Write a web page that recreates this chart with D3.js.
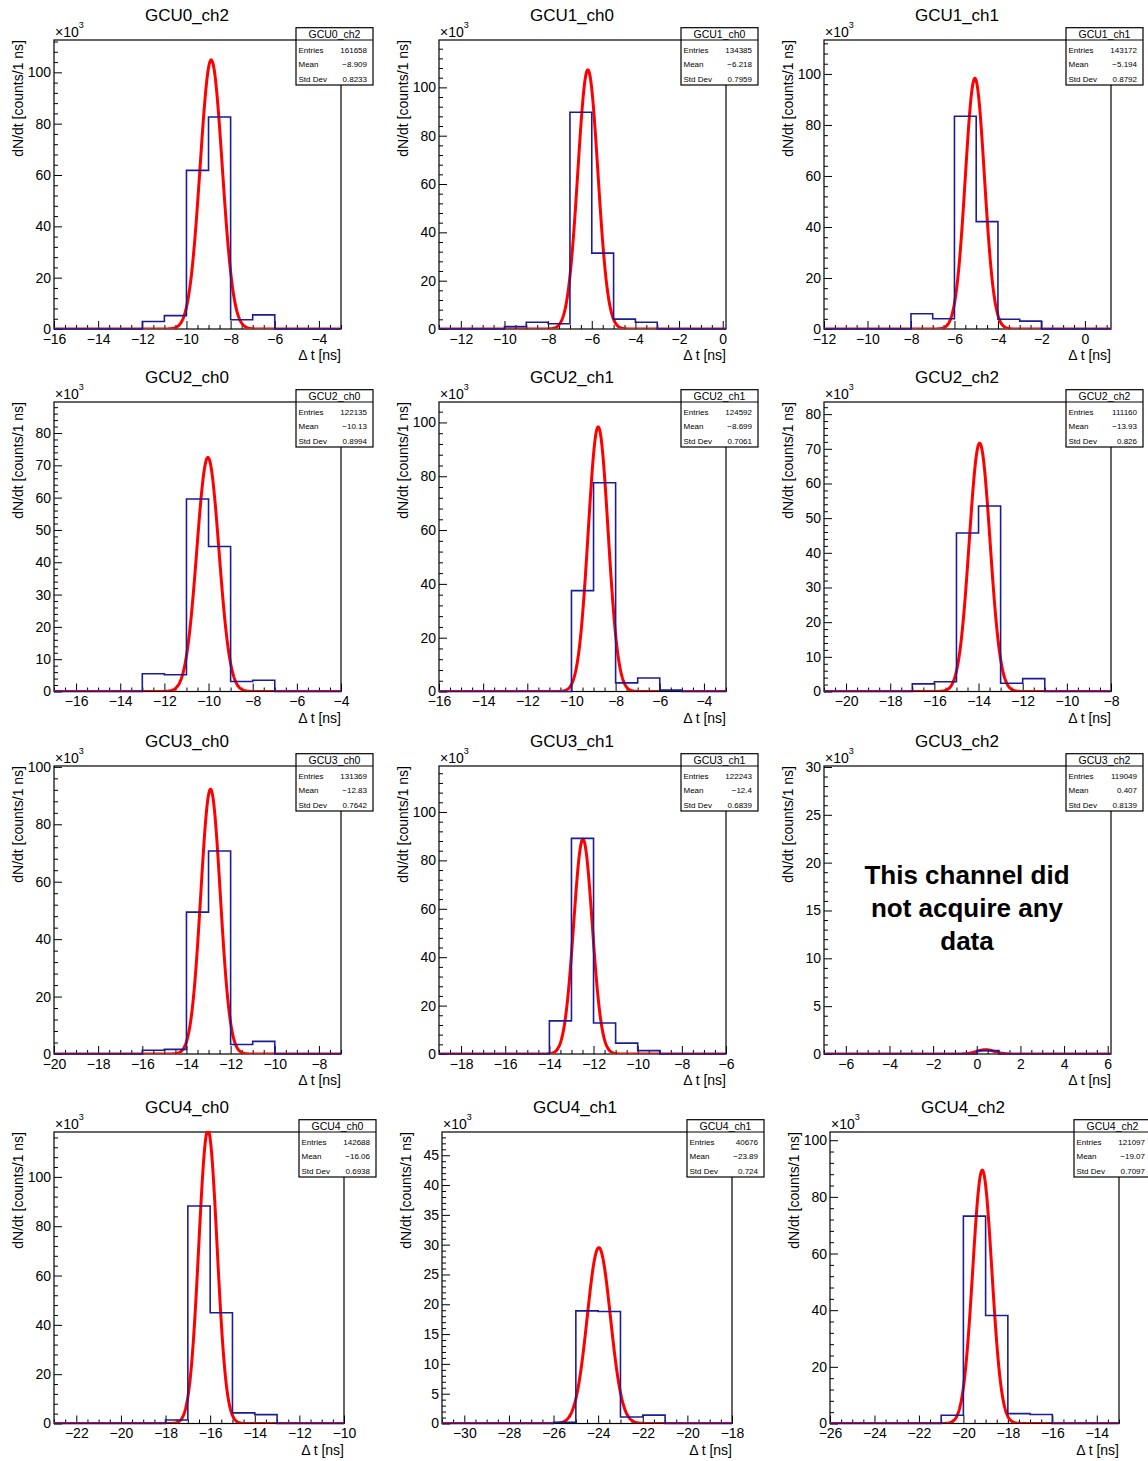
<!DOCTYPE html>
<html>
<head>
<meta charset="utf-8">
<script src="https://cdn.jsdelivr.net/npm/d3@7"></script>
<style>
  body { margin: 0; background: #fff; }
  text { font-family: "Liberation Sans", Arial, sans-serif; }
</style>
</head>
<body>
<script>
// Histogram names (one panel each)
const names = ["GCU0_ch2", "GCU1_ch0", "GCU1_ch1", "GCU2_ch0", "GCU2_ch1", "GCU2_ch2",
               "GCU3_ch0", "GCU3_ch1", "GCU3_ch2", "GCU4_ch0", "GCU4_ch1", "GCU4_ch2"];

// Stat box values
const entries = [161658, 134385, 143172, 122135, 124592, 111160, 131369, 122243, 119049, 142688, 40676, 121097];
const means = [-8.909, -6.218, -5.194, -10.13, -8.699, -13.93, -12.83, -12.4, 0.407, -16.06, -23.89, -19.07];
const stdDevs = [0.8233, 0.7959, 0.8792, 0.8994, 0.7061, 0.826, 0.7642, 0.6839, 0.8139, 0.6938, 0.724, 0.7097];

// Axis ranges (x in ns, y in units of 10^3 counts)
const xMin = [-16, -13, -12, -17, -16, -21, -20, -19, -7, -23, -31, -26];
const xMax = [-3, 0.15, 1.2, -4, -3, -8, -7, -6, 6.15, -10, -18, -13];
const yMax = [112.6, 119.6, 113.3, 89.6, 107.6, 83.5, 100.3, 119, 30.1, 118.2, 48.9, 102.9];

// Histogram contents: 1 ns bins starting at binLo (x10^3 counts), zero elsewhere
const binLo = [-12, -10, -8, -13, -10, -17, -16, -14, 0, -18, -26, -21];
const counts = [
  [2.9, 5.2, 61.8, 82.6, 3.6, 5.5],
  [1.0, 2.8, 2.2, 89.7, 31.4, 4.1, 2.8],
  [6.0, 4.0, 83.4, 42.1, 3.8, 3.1],
  [5.5, 5.2, 59.6, 44.9, 3.1, 3.5],
  [37.5, 77.6, 3.2, 5.0, 0.5],
  [2.2, 2.8, 45.7, 53.5, 2.4, 3.7],
  [1.3, 1.6, 49.4, 70.7, 3.3, 4.4],
  [13.7, 89.1, 12.8, 4.5, 1.4],
  [0.35],
  [1.4, 88.2, 44.9, 4.3, 3.6],
  [0.2, 18.9, 18.8, 1.1, 1.4],
  [2.9, 73.2, 38.1, 3.5, 3.2]
];

// Gaussian fit parameters
const fitAmp = [104.8, 107.2, 98.3, 72.4, 98.3, 71.6, 92.2, 88.7, 0.45, 119, 29.5, 89.4];
const fitMean = [-8.88, -6.18, -5.06, -10.03, -8.79, -13.95, -12.91, -12.48, 0.4, -16.1, -23.97, -19.15];
const fitSigma = [0.5, 0.46, 0.44, 0.5, 0.45, 0.47, 0.44, 0.42, 0.4, 0.41, 0.52, 0.43];

// Layout
const width = 1148;
const height = 1461;
const rowTop = [40, 402, 766, 1132];
const rowBottom = [329, 691.5, 1054, 1423.5];
const colLeft = [[54, 439, 824], [54, 439, 824], [54, 439, 824], [54, 442, 830]];
const colWidth = [[287, 287, 287], [287, 287, 287], [287, 287, 287], [290, 290, 289]];

const histColor = "#1c1c94";
const fitColor = "#ff0000";
const fontSize = 14;

const fmt = d3.format("d");
const minus = v => String(v).replace("-", "\u2212");

const svg = d3.select("body").append("svg")
    .attr("width", width)
    .attr("height", height)
    .attr("viewBox", [0, 0, width, height]);

names.forEach((name, i) => {
  const row = Math.floor(i / 3), col = i % 3;
  const left = colLeft[row][col], top = rowTop[row];
  const right = left + colWidth[row][col], bottom = rowBottom[row];

  const x = d3.scaleLinear().domain([xMin[i], xMax[i]]).range([left, right]);
  const y = d3.scaleLinear().domain([0, yMax[i]]).range([bottom, top]);

  const g = svg.append("g");

  // Title
  g.append("text")
      .attr("x", left + 133)
      .attr("y", top - 19)
      .attr("text-anchor", "middle")
      .attr("font-size", 17)
      .text(name);

  // Frame
  g.append("rect")
      .attr("x", left).attr("y", top)
      .attr("width", right - left).attr("height", bottom - top)
      .attr("fill", "none").attr("stroke", "#000").attr("stroke-width", 1.2);

  // Ticks on x axis: labels every 2 ns, minor every 0.5 ns
  const xMajor = d3.range(Math.ceil(xMin[i] / 2) * 2, xMax[i] + 1e-9, 2);
  const xMinor = d3.range(Math.ceil(xMin[i] * 2) / 2, xMax[i] + 1e-9, 0.5).filter(v => v % 2 !== 0);
  g.append("g")
      .attr("transform", `translate(0,${bottom})`)
      .call(d3.axisBottom(x).tickValues(xMajor).tickSize(-8).tickPadding(5).tickFormat(fmt));
  g.append("g")
      .attr("transform", `translate(0,${bottom})`)
      .call(d3.axisBottom(x).tickValues(xMinor).tickSize(-4).tickFormat(""));

  // Ticks on y axis
  const step = yMax[i] < 60 ? 5 : yMax[i] < 95 ? 10 : 20;
  const yMajor = d3.range(0, yMax[i] + 1e-9, step);
  const yMinor = d3.range(0, yMax[i] + 1e-9, step / 5).filter(v => Math.abs(v / step - Math.round(v / step)) > 1e-6);
  g.append("g")
      .attr("transform", `translate(${left},0)`)
      .call(d3.axisLeft(y).tickValues(yMajor).tickSize(-8).tickPadding(3).tickFormat(fmt));
  g.append("g")
      .attr("transform", `translate(${left},0)`)
      .call(d3.axisLeft(y).tickValues(yMinor).tickSize(-4).tickFormat(""));

  g.selectAll(".domain").remove();
  g.selectAll(".tick line").attr("stroke", "#000").attr("stroke-width", 1);
  g.selectAll(".tick text").attr("font-size", fontSize).attr("fill", "#000")
      .style("font-family", '"Liberation Sans", Arial, sans-serif');

  // x10^3 multiplier
  const mult = g.append("text")
      .attr("x", left + 1)
      .attr("y", top - 3)
      .attr("font-size", fontSize)
      .text("\u00d710");
  mult.append("tspan").attr("dy", -9).attr("font-size", 9).text("3");

  // Axis titles
  g.append("text")
      .attr("transform", `translate(${left - 31},${top}) rotate(-90)`)
      .attr("text-anchor", "end")
      .attr("font-size", 14)
      .text("dN/dt [counts/1 ns]");
  g.append("text")
      .attr("x", right)
      .attr("y", bottom + 31)
      .attr("text-anchor", "end")
      .attr("font-size", 14)
      .text("\u0394 t [ns]");

  // Clip data to the frame (the fit is cut half a stroke above the baseline)
  const clipId = `clip${i}`;
  svg.append("clipPath").attr("id", clipId)
    .append("rect")
      .attr("x", left).attr("y", top - 1)
      .attr("width", right - left).attr("height", bottom - top + 3);
  const fitClipId = `fitclip${i}`;
  svg.append("clipPath").attr("id", fitClipId)
    .append("rect")
      .attr("x", left).attr("y", top - 1)
      .attr("width", right - left).attr("height", bottom - top + 0.6);

  // Gaussian fit
  const fitPts = d3.range(xMin[i], xMax[i] + 1e-9, 0.02)
      .map(t => [t, fitAmp[i] * Math.exp(-0.5 * ((t - fitMean[i]) / fitSigma[i]) ** 2)]);
  g.append("path")
      .datum(fitPts)
      .attr("clip-path", `url(#${fitClipId})`)
      .attr("fill", "none")
      .attr("stroke", fitColor)
      .attr("stroke-width", 3)
      .attr("d", d3.line().x(d => x(d[0])).y(d => y(d[1])));

  // Histogram step line
  const steps = [[xMin[i], 0], [binLo[i], 0]];
  counts[i].forEach((c, k) => {
    steps.push([binLo[i] + k, c], [binLo[i] + k + 1, c]);
  });
  steps.push([binLo[i] + counts[i].length, 0], [xMax[i], 0]);
  g.append("path")
      .datum(steps)
      .attr("clip-path", `url(#${clipId})`)
      .attr("fill", "none")
      .attr("stroke", histColor)
      .attr("stroke-width", 1.6)
      .attr("d", d3.line().x(d => x(d[0])).y(d => y(d[1])));

  // Stat box
  const bx = right - 45, bw = 77;
  const box = g.append("g");
  box.append("rect")
      .attr("x", bx).attr("y", top - 12.3)
      .attr("width", bw).attr("height", 57.3)
      .attr("fill", "#fff").attr("stroke", "#000").attr("stroke-width", 1.2);
  box.append("line")
      .attr("x1", bx).attr("x2", bx + bw)
      .attr("y1", top).attr("y2", top)
      .attr("stroke", "#000").attr("stroke-width", 1);
  box.append("text")
      .attr("x", bx + bw / 2).attr("y", top - 2.5)
      .attr("text-anchor", "middle")
      .attr("font-size", 10.5)
      .text(name);
  const rows = [["Entries", String(entries[i])], ["Mean", minus(means[i])], ["Std Dev", String(stdDevs[i])]];
  rows.forEach((r, k) => {
    box.append("text")
        .attr("x", bx + 2.5).attr("y", top + 12.8 + k * 14.4)
        .attr("font-size", 8)
        .text(r[0]);
    box.append("text")
        .attr("x", bx + 71).attr("y", top + 12.8 + k * 14.4)
        .attr("text-anchor", "end")
        .attr("font-size", 8)
        .text(r[1]);
  });

  // Note on the dead channel
  if (name === "GCU3_ch2") {
    const note = g.append("text")
        .attr("x", 967)
        .attr("text-anchor", "middle")
        .attr("font-size", 26)
        .attr("font-weight", "bold");
    ["This channel did", "not acquire any", "data"].forEach((line, k) => {
      note.append("tspan").attr("x", 967).attr("y", 884 + k * 33).text(line);
    });
  }
});
</script>
</body>
</html>
